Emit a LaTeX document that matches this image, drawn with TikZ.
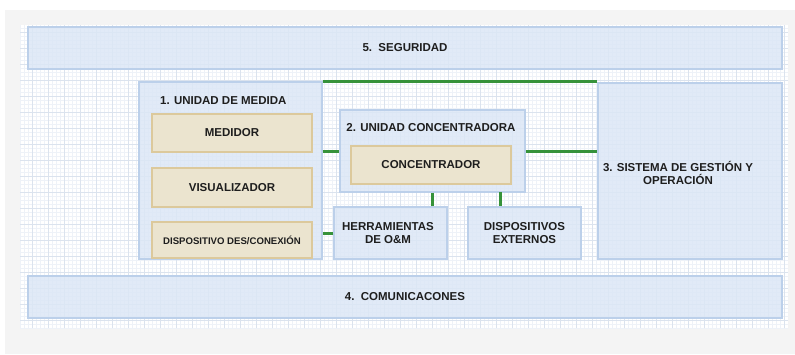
\documentclass[tikz,border=0pt]{standalone}
\usepackage{fontspec}
\setmainfont{Liberation Sans}
\definecolor{bgray}{HTML}{F4F4F4}
\definecolor{gmaj}{HTML}{DBE3EE}
\definecolor{gmin}{HTML}{EEF2F8}
\definecolor{bfill}{HTML}{DCE7F6}
\definecolor{bline}{HTML}{BCD0EA}
\definecolor{tfill}{HTML}{EBE4CF}
\definecolor{tline}{HTML}{DCC99C}
\definecolor{lgreen}{HTML}{36923A}
\definecolor{txt}{HTML}{1E1E1E}
\tikzset{
  bluebox/.style={draw=bline, line width=1.3pt, fill=bfill, fill opacity=0.85, text opacity=1, rectangle, inner sep=0pt},
  tanbox/.style={draw=tline, line width=1.7pt, fill=tfill, rectangle, inner sep=0pt, text=txt, font=\fontsize{11.5}{13}\selectfont\bfseries},
  lbl/.style={text=txt, font=\fontsize{11.5}{13.5}\selectfont\bfseries, inner sep=0pt, align=center},
  gline/.style={draw=lgreen, line width=3pt}
}
\begin{document}
\begin{tikzpicture}[x=1pt,y=-1pt]
\useasboundingbox (0,0) rectangle (795,354);
\fill[white] (0,0) rectangle (795,354);
\fill[bgray] (5,10) rectangle (795,354);
\fill[white] (20,25) rectangle (788,328);
\begin{scope}
\clip (20,25) rectangle (788,328);
\draw[gmin, line width=0.5pt, step=4pt] (20,25) grid (788,328);
\draw[gmaj, line width=0.8pt, step=16pt] (20,25) grid (788,328);
\end{scope}
% bands
\node[bluebox, minimum width=754pt, minimum height=42pt] (sec) at (405,48) {};
\node[lbl] (secl) at (405,48) {5.\ \ SEGURIDAD};
\node[bluebox, minimum width=754pt, minimum height=42pt] (com) at (405,297) {};
\node[lbl] (coml) at (405,297) {4.\ \ COMUNICACONES};
% unit 1
\node[bluebox, minimum width=183pt, minimum height=177pt] (u1) at (230.5,170.5) {};
\node[lbl, anchor=west] (u1l) at (160,101) {1. UNIDAD DE MEDIDA};
\node[tanbox, minimum width=160pt, minimum height=38pt] (med) at (232,133) {MEDIDOR};
\node[tanbox, minimum width=160pt, minimum height=39pt] (vis) at (232,187.5) {VISUALIZADOR};
\node[tanbox, minimum width=160pt, minimum height=36pt, font=\fontsize{9.6}{11}\selectfont\bfseries] (dis) at (232,240) {DISPOSITIVO DES/CONEXIÓN};
% unit 2
\node[bluebox, minimum width=185pt, minimum height=82pt] (u2) at (432.5,151) {};
\node[lbl] (u2l) at (431,128) {2. UNIDAD CONCENTRADORA};
\node[tanbox, minimum width=160pt, minimum height=38pt] (conc) at (431,165) {CONCENTRADOR};
% lower boxes
\node[bluebox, minimum width=113pt, minimum height=52pt] (herr) at (390.5,233) {};
\node[lbl] (herrl) at (388,233) {HERRAMIENTAS\\DE O\&M};
\node[bluebox, minimum width=113pt, minimum height=52pt] (ext) at (524.5,233) {};
\node[lbl] (extl) at (524.5,233) {DISPOSITIVOS\\EXTERNOS};
% system
\node[bluebox, minimum width=184pt, minimum height=176pt] (sys) at (690,171) {};
\node[lbl] (sysl) at (678,173) {3. SISTEMA DE GESTIÓN Y\\OPERACIÓN};
% connectors
\coordinate (c2) at (500,192);
\draw[gline] (u1.north east) -- (u1.north east -| sys.north west);
\draw[gline] (u1.east |- u2.west) -- (u2.west);
\draw[gline] (u2.east) -- (u2.east -| sys.west);
\draw[gline] (u2.south) -- (u2.south |- herr.north);
\draw[gline] (c2) -- (c2 |- ext.north);
\draw[gline] (herr.west) -- (herr.west -| u1.east);
\end{tikzpicture}
\end{document}
